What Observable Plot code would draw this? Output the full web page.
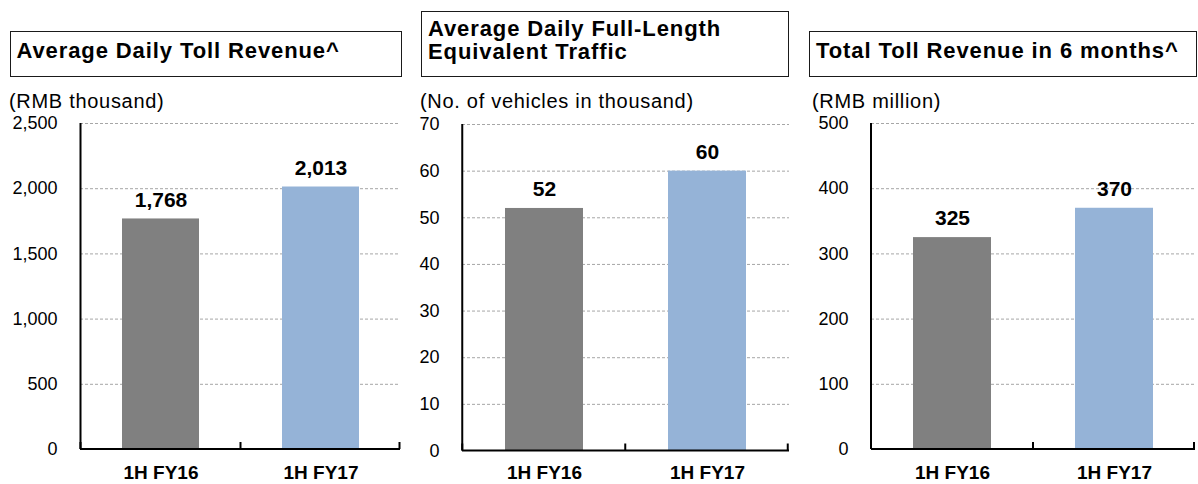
<!DOCTYPE html>
<html><head><meta charset="utf-8">
<script src="https://cdn.jsdelivr.net/npm/d3@7"></script>
<script src="https://cdn.jsdelivr.net/npm/@observablehq/plot@0.6"></script>
<style>
body{margin:0;background:#fff;}
#chart{position:relative;width:1198px;height:484px;overflow:hidden;font-family:"Liberation Sans",Arial,sans-serif;color:#000;}
.title{position:absolute;box-sizing:border-box;border:1.5px solid #1a1a1a;font-weight:bold;font-size:22px;line-height:23px;letter-spacing:0.9px;padding-left:6px;white-space:nowrap;}
.unit{position:absolute;font-size:20px;line-height:20px;letter-spacing:0.7px;white-space:nowrap;}
.panel{position:absolute;top:110px;}
</style></head><body><div id="chart"></div><script>
const categories = ["1H FY16", "1H FY17"];
const tollRevenue = [1768, 2013];
const traffic = [52, 60];
const totalRevenue = [325, 370];
const titles = ["Average Daily Toll Revenue^", "Average Daily Full-Length<br>Equivalent Traffic", "Total Toll Revenue in 6 months^"];
const units = ["(RMB thousand)", "(No. of vehicles in thousand)", "(RMB million)"];
const ticks1 = [0, 500, 1000, 1500, 2000, 2500];
const ticks2 = [0, 10, 20, 30, 40, 50, 60, 70];
const ticks3 = [0, 100, 200, 300, 400, 500];
const barColors = ["#808080", "#95B3D7"];

const fmt = d3.format(",");
const chart = document.getElementById("chart");

function addDiv(cls, html, css) {
  const d = document.createElement("div");
  d.className = cls;
  d.innerHTML = html;
  Object.assign(d.style, css);
  chart.appendChild(d);
}

function panel({left, width, marginLeft, marginTop, marginBottom, values, ticks, labelPad}) {
  const height = 374;
  const marginRight = 1;
  const step = (width - marginLeft - marginRight) / categories.length;
  const plotH = height - marginTop - marginBottom;
  const data = categories.map((c, i) => ({category: c, value: values[i]}));
  const ymax = ticks[ticks.length - 1];
  const tickLen = ymax * 7 / plotH; // 7px boundary tick expressed in data units
  const p = Plot.plot({
    width, height, marginLeft, marginRight, marginTop, marginBottom,
    style: {fontFamily: '"Liberation Sans", Arial, sans-serif', color: "#000", background: "transparent", overflow: "visible"},
    x: {domain: categories, paddingInner: 0.52, paddingOuter: 0.26, label: null},
    y: {domain: [0, ymax], label: null},
    color: {domain: categories, range: barColors},
    marks: [
      Plot.gridY(ticks.filter(t => t > 0), {stroke: "#a6a6a6", strokeOpacity: 1, strokeDasharray: "3,2", strokeWidth: 1}),
      Plot.barY(data, {x: "category", y: "value", fill: "category"}),
      Plot.ruleY([0], {dy: -0.5, stroke: "#000", strokeWidth: 2}),
      Plot.ruleX([categories[0]], {x: d => d, y1: 0, y2: ymax, dx: -step / 2 - 0.5, stroke: "#000", strokeWidth: 2}),
      Plot.ruleX(categories, {x: d => d, y1: 0, y2: tickLen, dx: -step / 2 - 0.5, stroke: "#000", strokeWidth: 2}),
      Plot.ruleX([categories[categories.length - 1]], {x: d => d, y1: 0, y2: tickLen, dx: step / 2 - 1.5, stroke: "#000", strokeWidth: 2}),
      Plot.axisY(ticks, {tickSize: 0, tickPadding: 23, fontSize: 18, tickFormat: fmt, label: null}),
      Plot.axisX({tickSize: 0, tickPadding: labelPad, fontSize: 19, fontWeight: "bold", label: null}),
      Plot.text(data, {x: "category", y: "value", text: d => fmt(d.value), dy: -19, fontSize: 21, fontWeight: "bold"})
    ]
  });
  p.classList.add("panel");
  p.style.left = left + "px";
  chart.appendChild(p);
}

// titles
addDiv("title", titles[0], {left: "9.5px", top: "31px", width: "392px", height: "46px", paddingTop: "6.7px"});
addDiv("title", titles[1], {left: "421px", top: "11px", width: "368px", height: "66px", paddingTop: "5.2px"});
addDiv("title", titles[2], {left: "809px", top: "31px", width: "388px", height: "46px", paddingTop: "6.7px"});
// units
addDiv("unit", units[0], {left: "9px", top: "91px"});
addDiv("unit", units[1], {left: "420px", top: "91px"});
addDiv("unit", units[2], {left: "812px", top: "91px"});

panel({left: 0, width: 401, marginLeft: 80, marginTop: 13, marginBottom: 35, values: tollRevenue, ticks: ticks1, labelPad: 16});
panel({left: 400, width: 390, marginLeft: 62, marginTop: 14, marginBottom: 33.5, values: traffic, ticks: ticks2, labelPad: 14.5});
panel({left: 800, width: 396, marginLeft: 71, marginTop: 13, marginBottom: 35, values: totalRevenue, ticks: ticks3, labelPad: 16});
</script></body></html>
